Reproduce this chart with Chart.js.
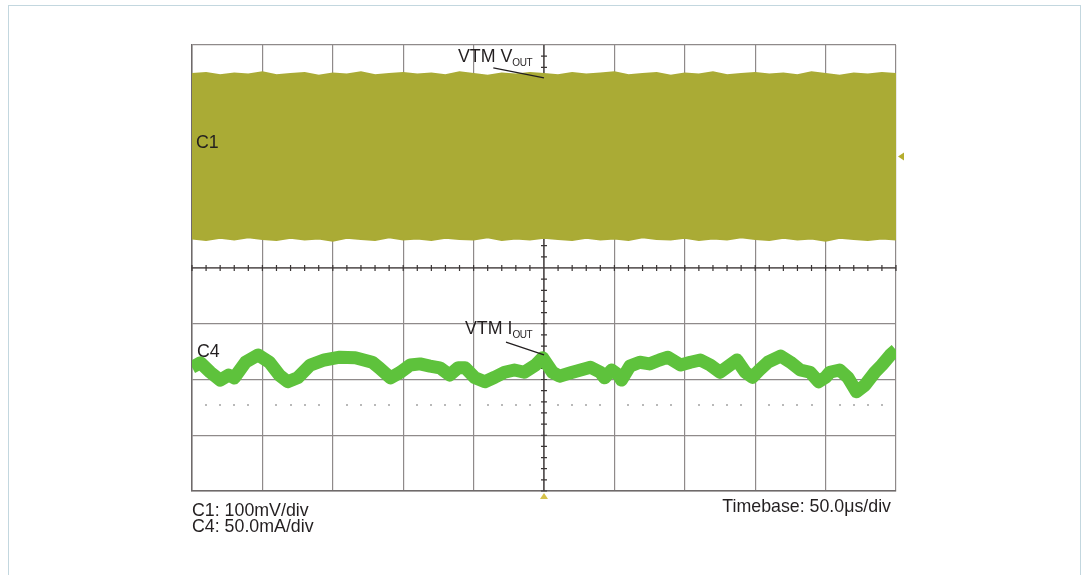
<!DOCTYPE html>
<html>
<head>
<meta charset="utf-8">
<script src="https://cdn.jsdelivr.net/npm/chart.js@4.4.1/dist/chart.umd.min.js"></script>
<style>
  body { margin: 0; background: #fff; }
  #wrap { position: relative; width: 1087px; height: 575px; overflow: hidden; }
  #frame { position: absolute; left: 8px; top: 5px; width: 1071px; height: 620px; border: 1px solid #c3d7df; }
  .lbl { position: absolute; font-family: "Liberation Sans", Arial, sans-serif; font-size: 17.8px; line-height: 1; color: #231f20; white-space: nowrap; }
  .lbl sub { font-size: 10px; vertical-align: -4px; letter-spacing: -0.4px; }
</style>
</head>
<body>
<div id="wrap">
  <div id="frame"></div>
  <canvas id="scope"></canvas>
  <div class="lbl" style="left:458px;top:48px">VTM V<sub>OUT</sub></div>
  <div class="lbl" style="left:196px;top:134px">C1</div>
  <div class="lbl" style="left:197px;top:343px">C4</div>
  <div class="lbl" style="left:465px;top:320px">VTM I<sub>OUT</sub></div>
  <div class="lbl" style="left:192px;top:502px">C1: 100mV/div</div>
  <div class="lbl" style="left:192px;top:518px">C4: 50.0mA/div</div>
  <div class="lbl" style="right:196px;top:498px">Timebase: 50.0μs/div</div>
</div>
<script>
// time axis in µs, vertical axis in screen divisions (centre = 0)
const timeTicks = [-250, -200, -150, -100, -50, 0, 50, 100, 150, 200, 250];

// C1 (VTM Vout) envelope, upper and lower edge, every 10 µs
const c1Time = [-250, -240, -230, -220, -210, -200, -190, -180, -170, -160, -150, -140, -130, -120, -110, -100, -90, -80, -70, -60, -50, -40, -30, -20, -10, 0,
  10, 20, 30, 40, 50, 60, 70, 80, 90, 100, 110, 120, 130, 140, 150, 160, 170, 180, 190, 200, 210, 220, 230, 240, 250];
const c1Top = [3.47, 3.49, 3.45, 3.48, 3.46, 3.50, 3.45, 3.47, 3.49, 3.44, 3.48, 3.46, 3.50, 3.45, 3.47, 3.49, 3.46, 3.48, 3.45, 3.50, 3.47, 3.44, 3.48, 3.46, 3.49, 3.47,
  3.45, 3.49, 3.46, 3.48, 3.50, 3.45, 3.47, 3.49, 3.44, 3.48, 3.46, 3.50, 3.45, 3.47, 3.49, 3.46, 3.48, 3.45, 3.50, 3.47, 3.44, 3.48, 3.46, 3.49, 3.47];
const c1Bottom = [0.54, 0.51, 0.55, 0.52, 0.56, 0.53, 0.51, 0.55, 0.52, 0.54, 0.50, 0.55, 0.53, 0.51, 0.56, 0.52, 0.54, 0.51, 0.55, 0.53, 0.52, 0.56, 0.51, 0.54, 0.52, 0.55,
  0.53, 0.51, 0.55, 0.52, 0.54, 0.51, 0.56, 0.53, 0.52, 0.55, 0.51, 0.54, 0.52, 0.56, 0.53, 0.51, 0.55, 0.52, 0.54, 0.50, 0.55, 0.53, 0.51, 0.54, 0.52];

// C4 (VTM Iout) trace centre line
const c4Time = [-250, -244, -237, -230, -224, -220, -212, -203, -195, -188, -182, -175, -166, -156, -145, -134, -122, -117, -109, -102, -95, -88, -81, -74, -67, -61, -56,
  -49, -42, -35, -28, -21, -14, -6, -1, 6, 11, 19, 26, 33, 40, 43, 48, 53, 55, 61, 68, 75, 82, 88, 97, 104, 111, 118, 125, 137, 143, 148, 153, 159, 168, 175, 182,
  189, 195, 200, 203, 210, 216, 222, 228, 235, 240, 246, 250];
const c4Div = [-1.78, -1.70, -1.87, -2.01, -1.92, -1.97, -1.69, -1.56, -1.69, -1.92, -2.04, -1.97, -1.74, -1.65, -1.60, -1.61, -1.69, -1.79, -1.97, -1.87, -1.74, -1.72,
  -1.76, -1.79, -1.92, -1.79, -1.79, -1.97, -2.04, -1.96, -1.87, -1.83, -1.87, -1.74, -1.61, -1.87, -1.94, -1.88, -1.83, -1.78, -1.87, -1.97, -1.83, -1.92, -2.01,
  -1.76, -1.69, -1.72, -1.65, -1.60, -1.74, -1.69, -1.65, -1.74, -1.87, -1.65, -1.87, -1.96, -1.83, -1.69, -1.58, -1.69, -1.83, -1.87, -2.04, -1.96, -1.87, -1.83,
  -1.97, -2.22, -2.10, -1.87, -1.74, -1.56, -1.47];

const c1Marker = 2.0;      // C1 offset arrow on the right edge
const refLevel = -2.46;    // faint dotted level line

const toPts = (xs, ys) => xs.map((x, i) => ({ x: x, y: ys[i] }));

const scopeOverlay = {
  id: "scopeOverlay",
  beforeDatasetsDraw(chart) {
    const { ctx, chartArea: a, scales: { x, y } } = chart;
    const cx = x.getPixelForValue(0), cy = y.getPixelForValue(0);
    ctx.save();
    // dotted level line
    ctx.fillStyle = "#b9b9b9";
    const ly = y.getPixelForValue(refLevel);
    for (let t = -240; t < 250; t += 10) {
      if (t % 50 === 0) continue;
      ctx.fillRect(Math.round(x.getPixelForValue(t)) - 1, Math.round(ly) - 1, 2, 2);
    }
    // centre cross with minor ticks
    ctx.strokeStyle = "#3a3535";
    ctx.lineWidth = 1.2;
    ctx.beginPath();
    ctx.moveTo(a.left, cy); ctx.lineTo(a.right, cy);
    ctx.moveTo(cx, a.top); ctx.lineTo(cx, a.bottom);
    for (let t = -250; t <= 250; t += 10) {
      const px = x.getPixelForValue(t);
      ctx.moveTo(px, cy - 3); ctx.lineTo(px, cy + 3);
    }
    for (let v = -4; v <= 4; v += 0.2) {
      const py = y.getPixelForValue(v);
      ctx.moveTo(cx - 3, py); ctx.lineTo(cx + 3, py);
    }
    ctx.stroke();
    ctx.restore();
  },
  afterDatasetsDraw(chart) {
    const { ctx, chartArea: a, scales: { x, y } } = chart;
    ctx.save();
    // leader lines for the labels
    ctx.strokeStyle = "#231f20";
    ctx.lineWidth = 1.3;
    ctx.beginPath();
    ctx.moveTo(x.getPixelForValue(-36), y.getPixelForValue(3.59));
    ctx.lineTo(x.getPixelForValue(0), y.getPixelForValue(3.41));
    ctx.moveTo(x.getPixelForValue(-27), y.getPixelForValue(-1.33));
    ctx.lineTo(x.getPixelForValue(0), y.getPixelForValue(-1.56));
    ctx.stroke();
    // C1 offset arrow (right) and trigger arrow (bottom)
    const my = y.getPixelForValue(c1Marker);
    ctx.fillStyle = "#b5ad2e";
    ctx.beginPath();
    ctx.moveTo(a.right + 2, my); ctx.lineTo(a.right + 8, my - 4); ctx.lineTo(a.right + 8, my + 4);
    ctx.closePath(); ctx.fill();
    const tx = x.getPixelForValue(0);
    ctx.fillStyle = "#d6c24a";
    ctx.beginPath();
    ctx.moveTo(tx, a.bottom + 2); ctx.lineTo(tx - 4, a.bottom + 8); ctx.lineTo(tx + 4, a.bottom + 8);
    ctx.closePath(); ctx.fill();
    ctx.restore();
  }
};

new Chart(document.getElementById("scope"), {
  type: "line",
  data: {
    datasets: [
      { label: "C1 top", data: toPts(c1Time, c1Top), borderColor: "#aaab35", backgroundColor: "#aaab35",
        borderWidth: 3, pointRadius: 0, fill: "+1", tension: 0 },
      { label: "C1 bottom", data: toPts(c1Time, c1Bottom), borderColor: "#aaab35", backgroundColor: "#aaab35",
        borderWidth: 3, pointRadius: 0, fill: false, tension: 0 },
      { label: "C4", data: toPts(c4Time, c4Div), borderColor: "#5ec23c", borderWidth: 13,
        pointRadius: 0, fill: false, tension: 0, borderJoinStyle: "round" }
    ]
  },
  options: {
    responsive: true,
    maintainAspectRatio: false,
    animation: false,
    layout: { padding: { left: 192, right: 191, top: 45, bottom: 84 } },
    plugins: { legend: { display: false }, tooltip: { enabled: false } },
    scales: {
      x: {
        type: "linear", min: -250, max: 250,
        afterBuildTicks: s => { s.ticks = timeTicks.map(v => ({ value: v })); },
        ticks: { display: false },
        grid: { color: "#8f8a8a", lineWidth: 1.2, drawTicks: false },
        border: { color: "#6f6a6a", width: 1.5 }
      },
      y: {
        min: -4, max: 4,
        ticks: { display: false, stepSize: 1 },
        grid: { color: "#8f8a8a", lineWidth: 1.2, drawTicks: false },
        border: { color: "#6f6a6a", width: 1.5 }
      }
    }
  },
  plugins: [scopeOverlay]
});
</script>
</body>
</html>
